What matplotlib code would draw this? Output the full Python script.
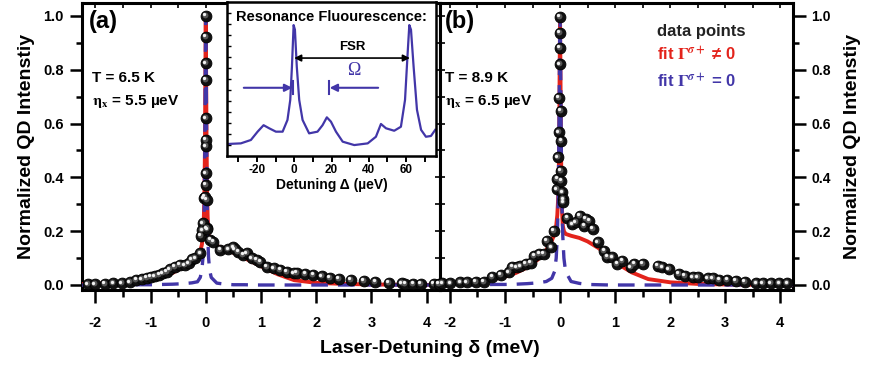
import numpy as np
import matplotlib
matplotlib.use("Agg")
import matplotlib.pyplot as plt
from matplotlib import font_manager
from matplotlib.ticker import MultipleLocator
from matplotlib.transforms import offset_copy

installed = {f.name for f in font_manager.fontManager.ttflist}
narrow = 'Liberation Sans Narrow' if 'Liberation Sans Narrow' in installed else 'Liberation Sans'

plt.rcParams['font.family'] = ['Liberation Sans', 'DejaVu Sans']
plt.rcParams['font.weight'] = 'bold'
plt.rcParams['mathtext.fontset'] = 'stix'
plt.rcParams['axes.unicode_minus'] = False

RED = '#e3231b'
BLUE = '#4236a8'

# ---- panel (a): T = 6.5 K ----
a_x = [-2.13, -2.01, -1.83, -1.67, -1.52, -1.37, -1.26, -1.16, -1.07, -1.00, -0.92, -0.84,
       -0.78, -0.71, -0.65, -0.56, -0.47, -0.38, -0.31, -0.25, -0.19, -0.10, -0.085, -0.06,
       -0.054, -0.03, -0.012, 0.0, 0.0, 0.006, 0.006, 0.0, 0.0, 0.0, 0.0, 0.0, 0.018, 0.018,
       0.03, 0.08, 0.14, 0.26, 0.41, 0.50, 0.53, 0.59, 0.68, 0.74, 0.83, 0.92, 0.99, 1.11,
       1.23, 1.35, 1.47, 1.59, 1.65, 1.80, 1.95, 2.10, 2.25, 2.41, 2.62, 2.86, 3.07, 3.31,
       3.55, 3.61, 3.76, 3.89, 4.13]
a_y = [0.002, 0.002, 0.004, 0.006, 0.006, 0.010, 0.019, 0.021, 0.027, 0.031, 0.033, 0.037,
       0.043, 0.050, 0.058, 0.068, 0.074, 0.073, 0.080, 0.095, 0.099, 0.118, 0.182, 0.204,
       0.229, 0.322, 0.328, 0.415, 0.372, 0.515, 0.539, 0.620, 0.762, 0.824, 0.923, 1.000,
       0.316, 0.211, 0.207, 0.167, 0.161, 0.130, 0.133, 0.140, 0.133, 0.124, 0.112, 0.118,
       0.099, 0.093, 0.087, 0.068, 0.062, 0.056, 0.050, 0.043, 0.046, 0.041, 0.037, 0.033,
       0.027, 0.024, 0.019, 0.015, 0.011, 0.009, 0.006, 0.005, 0.005, 0.004, 0.004]

fit_x = [-2.24, -1.8, -1.5, -1.2, -1.0, -0.8, -0.6, -0.4, -0.25, -0.15, -0.1, -0.07, -0.05,
         -0.035, -0.025, -0.015, -0.008, 0.0, 0.008, 0.015, 0.025, 0.035, 0.05, 0.07, 0.1,
         0.2, 0.35, 0.5, 0.7, 0.9, 1.1, 1.3, 1.6, 2.0, 2.5, 3.0, 3.5, 4.24]
red_a = [0.003, 0.006, 0.009, 0.014, 0.020, 0.030, 0.045, 0.068, 0.090, 0.110, 0.125, 0.150,
         0.190, 0.250, 0.330, 0.500, 0.750, 1.000, 0.750, 0.520, 0.340, 0.250, 0.190, 0.165,
         0.155, 0.145, 0.135, 0.120, 0.100, 0.080, 0.060, 0.040, 0.018, 0.008, 0.004, 0.002,
         0.001, 0.000]
blue_a = [0.0, 0.0, 0.0, 0.001, 0.001, 0.002, 0.003, 0.005, 0.008, 0.012, 0.028, 0.055,
          0.104, 0.19, 0.32, 0.56, 0.82, 1.0, 0.82, 0.56, 0.32, 0.19, 0.104, 0.055, 0.028,
          0.007, 0.003, 0.001, 0.001, 0.0, 0.0, 0.0, 0.0, 0.0, 0.0, 0.0, 0.0, 0.0]

# ---- panel (b): T = 8.9 K ----
b_x = [-2.20, -2.14, -1.99, -1.81, -1.69, -1.53, -1.38, -1.23, -1.08, -0.93, -0.87, -0.78,
       -0.72, -0.62, -0.53, -0.47, -0.38, -0.29, -0.24, -0.16, -0.11, -0.061, -0.048, -0.036,
       -0.018, -0.018, 0.0, 0.0, 0.0, 0.0, 0.012, 0.024, 0.012, 0.024, 0.042, 0.061, 0.061,
       0.13, 0.22, 0.29, 0.36, 0.44, 0.47, 0.53, 0.59, 0.68, 0.80, 0.86, 0.95, 1.04, 1.13,
       1.29, 1.35, 1.50, 1.77, 1.86, 1.98, 2.16, 2.26, 2.41, 2.50, 2.68, 2.77, 2.89, 3.04,
       3.19, 3.35, 3.56, 3.68, 3.83, 3.98, 4.13]
b_y = [0.004, 0.006, 0.006, 0.010, 0.010, 0.012, 0.012, 0.031, 0.038, 0.047, 0.068, 0.066,
       0.069, 0.078, 0.083, 0.109, 0.115, 0.115, 0.165, 0.140, 0.202, 0.356, 0.394, 0.474,
       0.567, 0.697, 0.821, 0.882, 0.938, 0.998, 0.647, 0.536, 0.425, 0.387, 0.344, 0.319,
       0.307, 0.249, 0.226, 0.233, 0.257, 0.220, 0.245, 0.239, 0.208, 0.158, 0.127, 0.105,
       0.103, 0.078, 0.090, 0.066, 0.078, 0.078, 0.072, 0.066, 0.059, 0.041, 0.035, 0.028,
       0.028, 0.025, 0.025, 0.019, 0.019, 0.016, 0.012, 0.006, 0.006, 0.006, 0.006, 0.006]

red_b = [0.004, 0.008, 0.013, 0.022, 0.031, 0.045, 0.065, 0.095, 0.130, 0.165, 0.190, 0.220,
         0.260, 0.320, 0.400, 0.550, 0.780, 1.000, 0.780, 0.550, 0.380, 0.280, 0.220, 0.200,
         0.190, 0.183, 0.175, 0.162, 0.137, 0.105, 0.072, 0.047, 0.022, 0.010, 0.004, 0.002,
         0.001, 0.000]
blue_b = [0.0, 0.001, 0.001, 0.002, 0.002, 0.003, 0.005, 0.008, 0.013, 0.025, 0.05, 0.1,
          0.18, 0.3, 0.46, 0.7, 0.89, 1.0, 0.89, 0.7, 0.46, 0.3, 0.18, 0.1, 0.05,
          0.013, 0.006, 0.002, 0.001, 0.0, 0.0, 0.0, 0.0, 0.0, 0.0, 0.0, 0.0, 0.0]

# ---- inset: resonance fluorescence spectrum ----
rf_x = [-35.7, -28.6, -23.2, -19.6, -16.4, -13.4, -9.8, -6.2, -3.6, -2.1, -1.2, -0.3, 0.4,
        1.4, 2.7, 4.5, 8.0, 12.5, 15.2, 17.5, 19.7, 22.4, 26.0, 32.2, 39.4, 43.8, 46.5,
        49.2, 53.6, 57.2, 59.4, 60.8, 61.7, 62.6, 64.0, 65.8, 68.0, 70.6, 73.3, 75.6]
rf_y = [0.078, 0.082, 0.104, 0.158, 0.200, 0.180, 0.158, 0.158, 0.234, 0.364, 0.580, 0.850,
        0.820, 0.580, 0.364, 0.234, 0.147, 0.158, 0.200, 0.251, 0.223, 0.158, 0.093, 0.071,
        0.082, 0.125, 0.208, 0.180, 0.164, 0.190, 0.364, 0.667, 0.850, 0.820, 0.580, 0.300,
        0.170, 0.125, 0.130, 0.170]

tick_vals = [-2, -1, 0, 1, 2, 3, 4]
tick_text = ['-2', '-1', '0', '1', '2', '3', '4']

fig = plt.figure(figsize=(8.74, 3.65), dpi=100)
ax_a = fig.add_axes([82 / 874, 75 / 365, 358 / 874, 287 / 365])
ax_b = fig.add_axes([440 / 874, 75 / 365, 353 / 874, 287 / 365])


def draw_panel(ax, xs, ys, red, blue, xlim):
    ax.plot(fit_x, red, color=RED, lw=2.8, zorder=3, solid_joinstyle='round')
    ax.plot(fit_x, blue, color=BLUE, lw=2.4, ls=(0, (5, 3)), zorder=4)
    ax.plot(xs, ys, 'o', color='#111111', ms=7.8, mec='#000000', mew=0.6, zorder=5,
            clip_on=False)
    shade = offset_copy(ax.transData, fig=fig, x=-1.0, y=1.0, units='dots')
    ax.plot(xs, ys, 'o', color='#555555', ms=4.2, mew=0, zorder=6, clip_on=False,
            transform=shade)
    glint = offset_copy(ax.transData, fig=fig, x=-1.6, y=1.6, units='dots')
    ax.plot(xs, ys, 'o', color='#f2f2f2', ms=2.4, mew=0, zorder=7, clip_on=False,
            transform=glint)
    ax.set_xlim(*xlim)
    ax.set_ylim(-0.0186, 1.0483)
    ax.set_xticks(tick_vals)
    ax.set_xticklabels(tick_text, family=[narrow, 'DejaVu Sans'], fontsize=10.5,
                       fontweight='bold')
    ax.xaxis.set_minor_locator(MultipleLocator(0.5))
    ax.yaxis.set_major_locator(MultipleLocator(0.2))
    ax.yaxis.set_minor_locator(MultipleLocator(0.1))
    for s in ax.spines.values():
        s.set_linewidth(2.2)
    ax.tick_params(axis='x', which='major', direction='out', length=9, width=1.8, pad=9.5)
    ax.tick_params(axis='x', which='minor', direction='out', length=5, width=1.8)
    ax.tick_params(axis='y', which='major', direction='out', length=9, width=1.8, pad=4)
    ax.tick_params(axis='y', which='minor', direction='out', length=4.5, width=1.8)
    for lab in ax.get_yticklabels():
        lab.set_family([narrow, 'DejaVu Sans'])
        lab.set_fontsize(10.5)
        lab.set_fontweight('bold')
    # inward ticks on the top edge
    top = ax.secondary_xaxis('top')
    top.xaxis.set_major_locator(MultipleLocator(0.5))
    top.tick_params(direction='in', length=3.5, width=1.2, labeltop=False)
    top.spines['top'].set_visible(False)


draw_panel(ax_a, a_x, a_y, red_a, blue_a, (-2.24, 4.24))
draw_panel(ax_b, b_x, b_y, red_b, blue_b, (-2.18, 4.23))

# shared edge: inward ticks on the inner sides
ra = ax_a.secondary_yaxis('right')
ra.yaxis.set_major_locator(MultipleLocator(0.1))
ra.tick_params(direction='in', length=3.5, width=1.2, labelright=False)
ax_b.yaxis.tick_right()
ax_b.yaxis.set_label_position('right')
lb = ax_b.secondary_yaxis('left')
lb.yaxis.set_major_locator(MultipleLocator(0.1))
lb.tick_params(direction='in', length=3.5, width=1.2, labelleft=False)

ax_a.set_ylabel('Normalized QD Intenstiy', fontsize=14, fontweight='bold', labelpad=6)
ax_b.set_ylabel('Normalized QD Intenstiy', fontsize=14, fontweight='bold', labelpad=10)
fig.text(0.492, 0.045, 'Laser-Detuning δ (meV)', ha='center', va='center',
         fontsize=14, fontweight='bold')

# panel annotations
eta = r'$\mathrm{\eta}_\mathrm{x}$'
ax_a.text(0.02, 0.975, '(a)', transform=ax_a.transAxes, fontsize=17, fontweight='bold',
          va='top')
ax_a.text(0.027, 0.725, 'T = 6.5 K', transform=ax_a.transAxes, fontsize=11, fontweight='bold')
ax_a.text(0.027, 0.645, eta + ' = 5.5 µeV', transform=ax_a.transAxes,
          fontsize=11, fontweight='bold')
ax_b.text(0.015, 0.975, '(b)', transform=ax_b.transAxes, fontsize=17, fontweight='bold',
          va='top')
ax_b.text(0.015, 0.725, 'T = 8.9 K', transform=ax_b.transAxes, fontsize=11, fontweight='bold')
ax_b.text(0.015, 0.645, eta + ' = 6.5 µeV', transform=ax_b.transAxes,
          fontsize=11, fontweight='bold')

ax_b.text(0.615, 0.885, 'data points', transform=ax_b.transAxes, fontsize=12,
          fontweight='bold', color='#222222')
ax_b.text(0.615, 0.80, r'fit $\Gamma^{\sigma+}$ ≠ 0', transform=ax_b.transAxes,
          fontsize=12, fontweight='bold', color=RED)
ax_b.text(0.615, 0.705, r'fit $\Gamma^{\sigma+}$ = 0', transform=ax_b.transAxes,
          fontsize=12, fontweight='bold', color=BLUE)

# inset
ins = fig.add_axes([227 / 874, 1 - 156 / 365, 209 / 874, 154 / 365])
ins.set_facecolor('white')
ins.plot(rf_x, rf_y, color=BLUE, lw=1.6)
ins.set_xlim(-36, 76)
ins.set_ylim(0, 1)
ins.xaxis.set_major_locator(MultipleLocator(20))
ins.xaxis.set_minor_locator(MultipleLocator(10))
ins.set_yticks(np.arange(1, 14) / 14)
ins.tick_params(axis='y', direction='in', length=3, width=1.0, labelleft=False)
ins.tick_params(axis='x', which='both', direction='out', length=4, width=1.4, pad=2)
for lab in ins.get_xticklabels():
    lab.set_family([narrow, 'DejaVu Sans'])
    lab.set_fontsize(8.5)
    lab.set_fontweight('bold')
for s in ins.spines.values():
    s.set_linewidth(1.8)
ins.set_xlabel('Detuning Δ (µeV)', fontsize=10, fontweight='bold', labelpad=1)
ins.text(0.5, 0.95, 'Resonance Fluourescence:', transform=ins.transAxes, ha='center',
         va='top', fontsize=10.5, fontweight='bold')

# FSR and Omega markers
ins.annotate('', xy=(62, 0.636), xytext=(0, 0.636),
             arrowprops=dict(arrowstyle='<|-|>', color='black', lw=1.2,
                             mutation_scale=10, shrinkA=0, shrinkB=0))
ins.text(31, 0.67, 'FSR', ha='center', va='bottom', fontsize=9.5, fontweight='bold')
ins.annotate('', xy=(-1.0, 0.443), xytext=(-27, 0.443),
             arrowprops=dict(arrowstyle='-|>', color=BLUE, lw=1.5,
                             mutation_scale=11, shrinkA=0, shrinkB=0))
ins.annotate('', xy=(19, 0.443), xytext=(45, 0.443),
             arrowprops=dict(arrowstyle='-|>', color=BLUE, lw=1.5,
                             mutation_scale=11, shrinkA=0, shrinkB=0))
ins.plot([-0.6, -0.6], [0.40, 0.49], color=BLUE, lw=1.5)
ins.plot([18.6, 18.6], [0.40, 0.49], color=BLUE, lw=1.5)
ins.text(32, 0.5, 'Ω', ha='center', va='bottom', fontsize=13, color=BLUE,
         family=['Liberation Serif', 'DejaVu Serif'], fontweight='normal')

fig.savefig('out.png', dpi=100)
